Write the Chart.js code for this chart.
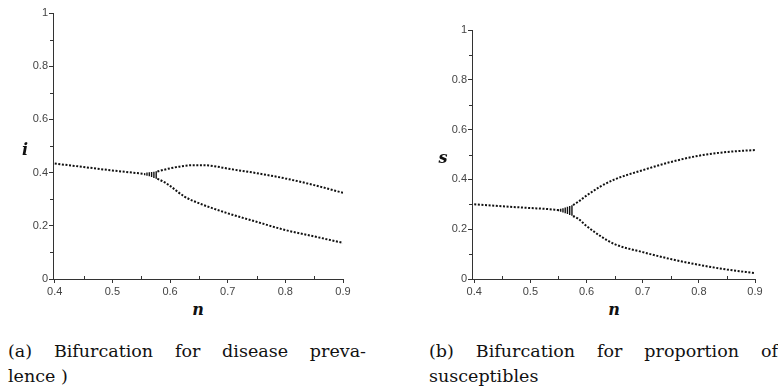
<!DOCTYPE html>
<html>
<head>
<meta charset="utf-8">
<script src="https://cdn.jsdelivr.net/npm/chart.js@4/dist/chart.umd.min.js"></script>
<style>
  html,body{margin:0;padding:0;background:#fff;}
  #wrap{position:relative;width:778px;height:389px;overflow:hidden;background:#fff;}
  .box{position:absolute;}
  .atitle{position:absolute;font-family:"DejaVu Serif",serif;font-weight:bold;font-style:italic;font-size:16px;color:#111;transform:translate(-50%,-50%);line-height:1;}
  .cap{position:absolute;font-family:"DejaVu Serif",serif;font-size:17.5px;color:#111;line-height:25px;white-space:nowrap;}
  .just{text-align:justify;text-align-last:justify;white-space:normal;}
</style>
</head>
<body>
<div id="wrap">
  <div class="box" style="left:0;top:0;width:360px;height:300px;"><canvas id="cA" width="360" height="300"></canvas></div>
  <div class="box" style="left:400px;top:0;width:378px;height:300px;"><canvas id="cB" width="378" height="300"></canvas></div>
  <div class="atitle" style="left:25px;top:150px;">i</div>
  <div class="atitle" style="left:198px;top:310px;">n</div>
  <div class="atitle" style="left:443px;top:158px;">s</div>
  <div class="atitle" style="left:614px;top:310px;">n</div>
  <div class="cap just" style="left:8px;top:339px;width:358px;">(a) Bifurcation for disease preva-</div>
  <div class="cap" style="left:8px;top:364px;">lence )</div>
  <div class="cap just" style="left:429px;top:339px;width:349px;">(b) Bifurcation for proportion of</div>
  <div class="cap" style="left:429px;top:364px;">susceptibles</div>
</div>
<script>
// ---------- data ----------
// Panel (a): disease prevalence i vs n
const nStemA = [0.40, 0.45, 0.50, 0.53, 0.556];
const iStemA = [0.434, 0.421, 0.408, 0.401, 0.395];
const nUpA   = [0.578, 0.59, 0.60, 0.62, 0.64, 0.66, 0.68, 0.70, 0.75, 0.80, 0.85, 0.90];
const iUpA   = [0.404, 0.411, 0.416, 0.424, 0.428, 0.428, 0.423, 0.415, 0.398, 0.378, 0.353, 0.324];
const nLowA  = [0.578, 0.59, 0.60, 0.625, 0.65, 0.675, 0.70, 0.75, 0.80, 0.85, 0.90];
const iLowA  = [0.377, 0.364, 0.350, 0.310, 0.285, 0.265, 0.247, 0.215, 0.184, 0.160, 0.136];
const nBarA  = [0.556, 0.560, 0.564, 0.568, 0.572, 0.576];
const iBarLoA = [0.390, 0.388, 0.386, 0.383, 0.380, 0.377];
const iBarHiA = [0.398, 0.400, 0.401, 0.402, 0.403, 0.405];

// Panel (b): proportion of susceptibles s vs n
const nStemB = [0.40, 0.45, 0.50, 0.53, 0.550];
const sStemB = [0.300, 0.292, 0.285, 0.281, 0.277];
const nUpB   = [0.576, 0.585, 0.60, 0.625, 0.65, 0.70, 0.75, 0.80, 0.85, 0.90];
const sUpB   = [0.297, 0.310, 0.335, 0.372, 0.400, 0.437, 0.470, 0.495, 0.510, 0.518];
const nLowB  = [0.576, 0.585, 0.60, 0.625, 0.65, 0.70, 0.75, 0.80, 0.85, 0.90];
const sLowB  = [0.253, 0.242, 0.213, 0.172, 0.140, 0.108, 0.080, 0.057, 0.038, 0.024];
const nBarB  = [0.550, 0.554, 0.558, 0.562, 0.566, 0.570, 0.574];
const sBarLoB = [0.272, 0.270, 0.267, 0.264, 0.261, 0.257, 0.254];
const sBarHiB = [0.280, 0.282, 0.284, 0.287, 0.290, 0.293, 0.296];

// tick values
const xTicks = [0.40, 0.45, 0.50, 0.55, 0.60, 0.65, 0.70, 0.75, 0.80, 0.85, 0.90];
const xLabels = ['0.4', '', '0.5', '', '0.6', '', '0.7', '', '0.8', '', '0.9'];
const yTicks = [0, 0.1, 0.2, 0.3, 0.4, 0.5, 0.6, 0.7, 0.8, 0.9, 1.0];
const yLabels = ['0', '', '0.2', '', '0.4', '', '0.6', '', '0.8', '', '1'];

// ---------- helpers ----------
const zip = (xs, ys) => xs.map((x, k) => ({x: x, y: ys[k]}));
function barPts(xs, lo, hi) {
  const out = [];
  xs.forEach((x, k) => { out.push({x: x, y: lo[k]}, {x: x, y: hi[k]}, {x: x, y: null}); });
  return out;
}
const INK = '#111';
function dotted(data) {
  return {type: 'line', data: data, borderColor: INK, borderWidth: 2, borderDash: [2, 1.6],
          pointRadius: 0, tension: 0.35, fill: false, cubicInterpolationMode: 'monotone'};
}
function bars(data) {
  return {type: 'line', data: data, borderColor: INK, borderWidth: 1.4, pointRadius: 0,
          spanGaps: false, fill: false, tension: 0};
}

// inward minor ticks
const minorTicks = {
  id: 'minorTicks',
  afterDraw(chart) {
    const ctx = chart.ctx, xs = chart.scales.x, ys = chart.scales.y;
    ctx.save();
    ctx.strokeStyle = '#333';
    ctx.lineWidth = 1;
    ctx.beginPath();
    xTicks.forEach((v, k) => {
      if (xLabels[k] === '') {
        const px = Math.round(xs.getPixelForValue(v)) + 0.5;
        ctx.moveTo(px, ys.bottom); ctx.lineTo(px, ys.bottom - 3);
      }
    });
    yTicks.forEach((v, k) => {
      if (yLabels[k] === '') {
        const py = Math.round(ys.getPixelForValue(v)) + 0.5;
        ctx.moveTo(xs.left, py); ctx.lineTo(xs.left - 3, py);
      }
    });
    ctx.stroke();
    ctx.restore();
  }
};

function makeChart(id, datasets, cfg) {
  const tickFont = {family: '"Liberation Sans", Arial, sans-serif', size: 11};
  return new Chart(document.getElementById(id), {
    type: 'scatter',
    data: {datasets: datasets},
    options: {
      responsive: false,
      animation: false,
      events: [],
      layout: {padding: {top: cfg.top, right: cfg.right, left: 0, bottom: 0}},
      plugins: {legend: {display: false}, tooltip: {enabled: false}, title: {display: false}},
      scales: {
        x: {
          type: 'linear', min: cfg.xmin, max: 0.9, offset: false,
          afterBuildTicks(s) { s.ticks = xTicks.map(v => ({value: v})); },
          afterFit(s) { s.height = 21; },
          ticks: {autoSkip: false, maxRotation: 0, padding: 2, color: '#444', font: tickFont,
                  callback: (v, k) => xLabels[k]},
          grid: {drawOnChartArea: false, tickLength: 4, offset: false,
                 tickColor: (c) => xLabels[c.index] === '' ? 'rgba(0,0,0,0)' : '#333'},
          border: {display: true, color: '#333', width: 1}
        },
        y: {
          type: 'linear', min: 0, max: 1,
          afterBuildTicks(s) { s.ticks = yTicks.map(v => ({value: v})); },
          afterFit(s) { s.width = cfg.yw; },
          ticks: {autoSkip: false, padding: 1, color: '#444', font: tickFont,
                  callback: (v, k) => yLabels[k]},
          grid: {drawOnChartArea: false, tickLength: 4,
                 tickColor: (c) => yLabels[c.index] === '' ? 'rgba(0,0,0,0)' : '#333'},
          border: {display: true, color: '#333', width: 1}
        }
      }
    },
    plugins: [minorTicks]
  });
}

makeChart('cA', [
  dotted(zip(nStemA, iStemA)),
  dotted(zip(nUpA, iUpA)),
  dotted(zip(nLowA, iLowA)),
  bars(barPts(nBarA, iBarLoA, iBarHiA))
], {top: 13, right: 17, xmin: 0.397, yw: 53});

makeChart('cB', [
  dotted(zip(nStemB, sStemB)),
  dotted(zip(nUpB, sUpB)),
  dotted(zip(nLowB, sLowB)),
  bars(barPts(nBarB, sBarLoB, sBarHiB))
], {top: 30, right: 23, xmin: 0.396, yw: 72});
</script>
</body>
</html>
